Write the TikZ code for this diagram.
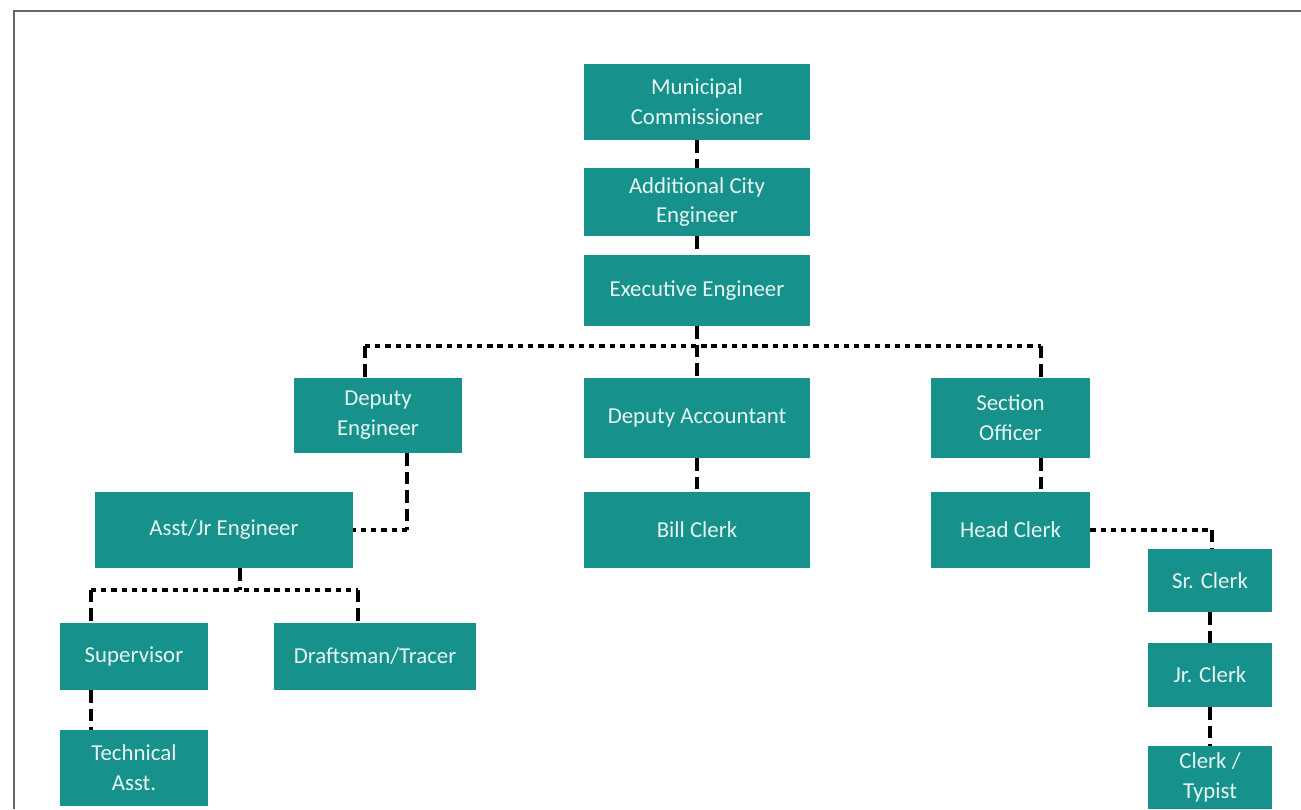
\documentclass[tikz,border=0pt]{standalone}
\usepackage{fontspec}
\setmainfont{Carlito}
\definecolor{boxteal}{HTML}{16918C}
\definecolor{boxtext}{HTML}{E8F6F3}
\tikzset{
  post/.style={fill=boxteal,text=boxtext,align=center,inner sep=0pt,
    font=\fontsize{13}{17}\selectfont},
  vline/.style={line width=2.5pt,dash pattern=on 7pt off 3.5pt},
  hline/.style={line width=2.5pt,dash pattern=on 3pt off 2.8pt},
}

\begin{document}
\begin{tikzpicture}[x=0.02cm,y=-0.02cm]
        \useasboundingbox (0,0) rectangle (1301,809) ;
        \draw[black!60,line width=1.2pt] (14,809)--(14,11)--(1301,11) ;
        % top of the chart
        \node[post,minimum width=4.52cm,minimum height=1.52cm] (mc) at (697,102) {Municipal\\Commissioner} ;
        \node[post,minimum width=4.52cm,minimum height=1.36cm] (ace) at (697,202) {Additional City\\Engineer} ;
        \node[post,minimum width=4.52cm,minimum height=1.42cm] (ee) at (697,290.5) {Executive Engineer} ;
        % second level
        \node[post,minimum width=3.36cm,minimum height=1.5cm] (de) at (378,415.5) {Deputy\\Engineer} ;
        \node[post,minimum width=4.52cm,minimum height=1.6cm] (da) at (697,418) {Deputy Accountant} ;
        \node[post,minimum width=3.18cm,minimum height=1.6cm] (so) at (1010.5,418) {Section\\Officer} ;
        \node[post,minimum width=5.16cm,minimum height=1.52cm] (aje) at (224,530) {Asst/Jr Engineer} ;
        \node[post,minimum width=4.52cm,minimum height=1.52cm] (bc) at (697,530) {Bill Clerk} ;
        \node[post,minimum width=3.18cm,minimum height=1.52cm] (hc) at (1010.5,530) {Head Clerk} ;
        % clerks
        \node[post,minimum width=2.48cm,minimum height=1.26cm] (src) at (1210,580.5) {Sr. Clerk} ;
        \node[post,minimum width=2.48cm,minimum height=1.28cm] (jrc) at (1210,675) {Jr. Clerk} ;
        \node[post,minimum width=2.48cm,minimum height=1.26cm] (ct) at (1210,777.5) {Clerk /\\Typist} ;
        % engineering staff
        \node[post,minimum width=2.96cm,minimum height=1.34cm] (sup) at (134,656.5) {Supervisor} ;
        \node[post,minimum width=4.04cm,minimum height=1.34cm] (dt) at (375,656.5) {Draftsman/Tracer} ;
        \node[post,minimum width=2.96cm,minimum height=1.52cm] (ta) at (134,768) {Technical\\Asst.} ;
        % connectors
        \coordinate (busl) at (365,346) ;
        \coordinate (busr) at (1041,346) ;
        \coordinate (deknee) at (407,530) ;
        \coordinate (hcknee) at (1212,530) ;
        \coordinate (ajebus) at (240,590) ;
        \coordinate (ajel) at (91,590) ;
        \coordinate (ajer) at (358,590) ;
        \draw[vline] (mc) -- (ace) ;
        \draw[vline] (ace) -- (ee) ;
        \draw[vline] (ee) -- (da) ;
        \draw[hline] (busl) -- (busr) ;
        \draw[vline] (busl) -- (busl |- de.north) ;
        \draw[vline] (busr) -- (busr |- so.north) ;
        \draw[vline] (da) -- (bc) ;
        \draw[vline] (deknee |- de.south) -- (deknee) ;
        \draw[hline] (deknee) -- (aje) ;
        \draw[vline] (busr |- so.south) -- (busr |- hc.north) ;
        \draw[hline] (hc) -- (hcknee) ;
        \draw[vline] (hcknee) -- (hcknee |- src.north) ;
        \draw[vline] (src) -- (jrc) ;
        \draw[vline] (jrc) -- (ct) ;
        \draw[vline] (ajebus |- aje.south) -- (ajebus) ;
        \draw[hline] (ajel) -- (ajer) ;
        \draw[vline] (ajel) -- (ajel |- sup.north) ;
        \draw[vline] (ajer) -- (ajer |- dt.north) ;
        \draw[vline] (ajel |- sup.south) -- (ajel |- ta.north) ;
\end{tikzpicture}
\end{document}
